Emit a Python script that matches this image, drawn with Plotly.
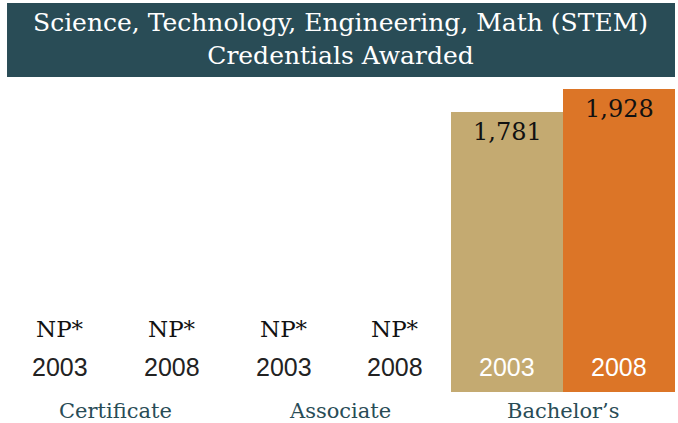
import plotly.graph_objects as go

# STEM credentials awarded, by credential type and year (NP = not provided)
groups = ["Certificate", "Associate", "Bachelor\u2019s"]
years = ["2003", "2008", "2003", "2008", "2003", "2008"]
values = [None, None, None, None, 1781, 1928]
np_label = "NP*"

TEAL = "#294c56"
TAN = "#c4aa71"
ORANGE = "#dc7527"
SERIF = "DejaVu Serif, Liberation Serif, serif"
SANS = "Liberation Sans, Arial, sans-serif"

xpos = list(range(len(years)))
colors = [TAN if y == "2003" else ORANGE for y in years]

fig = go.Figure()
fig.add_trace(go.Bar(
    x=xpos,
    y=[v if v is not None else 0 for v in values],
    marker=dict(color=colors, line=dict(width=0)),
    hoverinfo="skip",
))

annotations = []
for x, yr, v in zip(xpos, years, values):
    if v is None:
        annotations.append(dict(x=x, y=0, yref="y", xref="x", text=np_label,
                                showarrow=False, yanchor="middle", yshift=63,
                                font=dict(family=SERIF, size=23, color="#111111")))
        year_color = "#222222"
    else:
        annotations.append(dict(x=x, y=v, yref="y", xref="x",
                                text=f"{v:,}", showarrow=False,
                                yanchor="middle", yshift=-20,
                                font=dict(family=SERIF, size=24, color="#111111")))
        year_color = "#ffffff"
    annotations.append(dict(x=x, y=0, yref="y", xref="x", text=yr,
                            showarrow=False, yanchor="middle", yshift=25,
                            font=dict(family=SANS, size=25, color=year_color)))

for i, g in enumerate(groups):
    annotations.append(dict(x=2 * i + 0.5, y=0, yref="y", xref="x", text=g,
                            showarrow=False, yanchor="middle", yshift=-19,
                            font=dict(family=SERIF, size=21, color=TEAL)))

annotations.append(dict(
    x=0.502, y=1.15, xref="paper", yref="paper",
    text="Science, Technology, Engineering, Math (STEM)<br>Credentials Awarded",
    showarrow=False, yanchor="middle", xanchor="center",
    font=dict(family=SERIF, size=25, color="#ffffff"),
))

fig.update_layout(
    width=678, height=423,
    margin=dict(l=4, r=3, t=85, b=31),
    paper_bgcolor="white", plot_bgcolor="white",
    bargap=0, showlegend=False,
    xaxis=dict(range=[-0.5, 5.5], visible=False, fixedrange=True),
    yaxis=dict(range=[0, 1953], visible=False, fixedrange=True),
    annotations=annotations,
    shapes=[dict(type="rect", xref="paper", yref="paper",
                 x0=0.0045, x1=1.0, y0=1.026, y1=1.267,
                 fillcolor=TEAL, line=dict(width=0), layer="below")],
)

fig.write_html("out.html")
